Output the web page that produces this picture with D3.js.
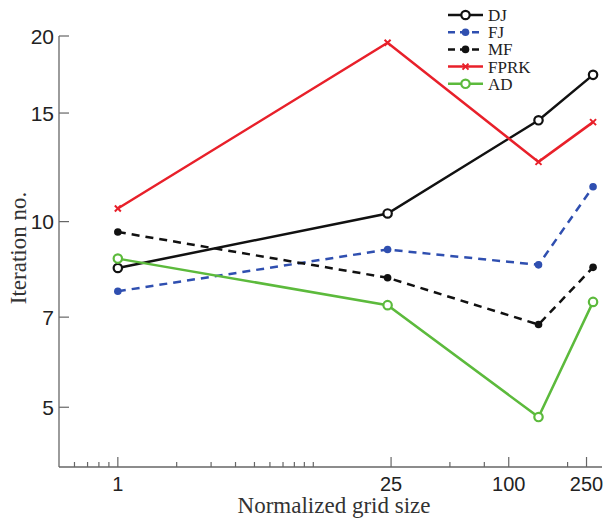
<!DOCTYPE html>
<html>
<head>
<meta charset="utf-8">
<script src="https://cdn.jsdelivr.net/npm/d3@7"></script>
<style>
  html, body { margin: 0; padding: 0; background: #fff; }
  svg { display: block; }
</style>
</head>
<body>
<svg id="chart" width="614" height="527"></svg>
<script>
const gridSizes = [1, 24, 142, 270];
const seriesNames = ["DJ", "FJ", "MF", "FPRK", "AD"];
const dj   = [8.41, 10.31, 14.6, 17.3];
const fj   = [7.71, 9.01, 8.51, 11.39];
const mf   = [9.62, 8.11, 6.81, 8.43];
const fprk = [10.5, 19.5, 12.5, 14.5];
const ad   = [8.71, 7.32, 4.82, 7.41];
const xMajorTicks = [1, 25, 100, 250];
const xMinorTicks = [0.6, 0.7, 0.8, 0.9, 2, 3, 4, 5, 6, 7, 8, 9, 10, 50, 75, 200];
const yTicks = [5, 7, 10, 15, 20];

const styles = {
  DJ:   { color: "#111111", dash: null,   marker: "open" },
  FJ:   { color: "#2f4fb0", dash: "8,6",  marker: "dot" },
  MF:   { color: "#111111", dash: "8,6",  marker: "dot" },
  FPRK: { color: "#e8202a", dash: null,   marker: "x" },
  AD:   { color: "#5cba3c", dash: null,   marker: "open" }
};
const seriesData = { DJ: dj, FJ: fj, MF: mf, FPRK: fprk, AD: ad };

const svg = d3.select("#chart");
const x = d3.scaleLog().domain([0.5, 300]).range([59, 602]);
const y = d3.scaleLog().domain([4, 20]).range([467, 36]);

const axisColor = "#666";
const sans = "'Liberation Sans', Arial, sans-serif";
const serif = "'Liberation Serif', 'Times New Roman', serif";

// X axis
const xAxis = svg.append("g").attr("transform", `translate(0,467)`);
xAxis.append("line").attr("x1", 59).attr("x2", 602).attr("y1", 0).attr("y2", 0)
  .attr("stroke", axisColor).attr("stroke-width", 1.3);
xAxis.selectAll(".maj").data(xMajorTicks).join("line")
  .attr("x1", d => x(d)).attr("x2", d => x(d)).attr("y1", 0).attr("y2", -10)
  .attr("stroke", axisColor).attr("stroke-width", 1.2);
xAxis.selectAll(".min").data(xMinorTicks).join("line")
  .attr("x1", d => x(d)).attr("x2", d => x(d)).attr("y1", 0).attr("y2", -5)
  .attr("stroke", axisColor).attr("stroke-width", 1.2);
xAxis.selectAll("text").data(xMajorTicks).join("text")
  .attr("x", d => x(d)).attr("y", 24)
  .attr("text-anchor", "middle")
  .attr("font-family", sans).attr("font-size", 20).attr("fill", "#222")
  .text(d => d);

// Y axis
const yAxis = svg.append("g");
yAxis.append("line").attr("x1", 59).attr("x2", 59).attr("y1", 36).attr("y2", 467)
  .attr("stroke", axisColor).attr("stroke-width", 1.3);
yAxis.selectAll("line.t").data(yTicks).join("line").attr("class", "t")
  .attr("x1", 59).attr("x2", 69).attr("y1", d => y(d)).attr("y2", d => y(d))
  .attr("stroke", axisColor).attr("stroke-width", 1.2);
yAxis.selectAll("text").data(yTicks).join("text")
  .attr("x", 54).attr("y", d => y(d)).attr("dy", "0.36em")
  .attr("text-anchor", "end")
  .attr("font-family", sans).attr("font-size", 21).attr("fill", "#222")
  .text(d => d);

// Axis titles
svg.append("text").attr("x", 334).attr("y", 513).attr("text-anchor", "middle")
  .attr("font-family", serif).attr("font-size", 23).attr("fill", "#333")
  .text("Normalized grid size");
svg.append("text").attr("transform", "translate(26,248) rotate(-90)")
  .attr("text-anchor", "middle")
  .attr("font-family", serif).attr("font-size", 23).attr("fill", "#333")
  .text("Iteration no.");

const line = d3.line().x(d => x(d[0])).y(d => y(d[1]));

function drawMarker(g, st, cx, cy) {
  if (st.marker === "open") {
    g.append("circle").attr("cx", cx).attr("cy", cy).attr("r", 4.2)
      .attr("fill", "#fff").attr("stroke", st.color).attr("stroke-width", 2.2);
  } else if (st.marker === "dot") {
    g.append("circle").attr("cx", cx).attr("cy", cy).attr("r", 3.8)
      .attr("fill", st.color);
  } else {
    const s = 3;
    g.append("path")
      .attr("d", `M${cx - s},${cy - s}L${cx + s},${cy + s}M${cx - s},${cy + s}L${cx + s},${cy - s}`)
      .attr("stroke", st.color).attr("stroke-width", 2);
  }
}

const plot = svg.append("g");
seriesNames.forEach(name => {
  const st = styles[name];
  const pts = gridSizes.map((g, i) => [g, seriesData[name][i]]);
  plot.append("path").datum(pts).attr("d", line)
    .attr("fill", "none").attr("stroke", st.color).attr("stroke-width", 2.5)
    .attr("stroke-dasharray", st.dash);
  const mg = plot.append("g");
  pts.forEach(p => drawMarker(mg, st, x(p[0]), y(p[1])));
});

// Legend
const legend = svg.append("g");
seriesNames.forEach((name, i) => {
  const st = styles[name];
  const ly = 15 + i * 17.2;
  legend.append("line").attr("x1", 448).attr("x2", 483).attr("y1", ly).attr("y2", ly)
    .attr("stroke", st.color).attr("stroke-width", 2.5).attr("stroke-dasharray", st.dash ? "7,5" : null);
  drawMarker(legend, st, 465.5, ly);
  legend.append("text").attr("x", 488).attr("y", ly).attr("dy", "0.35em")
    .attr("font-family", serif).attr("font-size", 17).attr("fill", "#222")
    .text(name);
});
</script>
</body>
</html>
